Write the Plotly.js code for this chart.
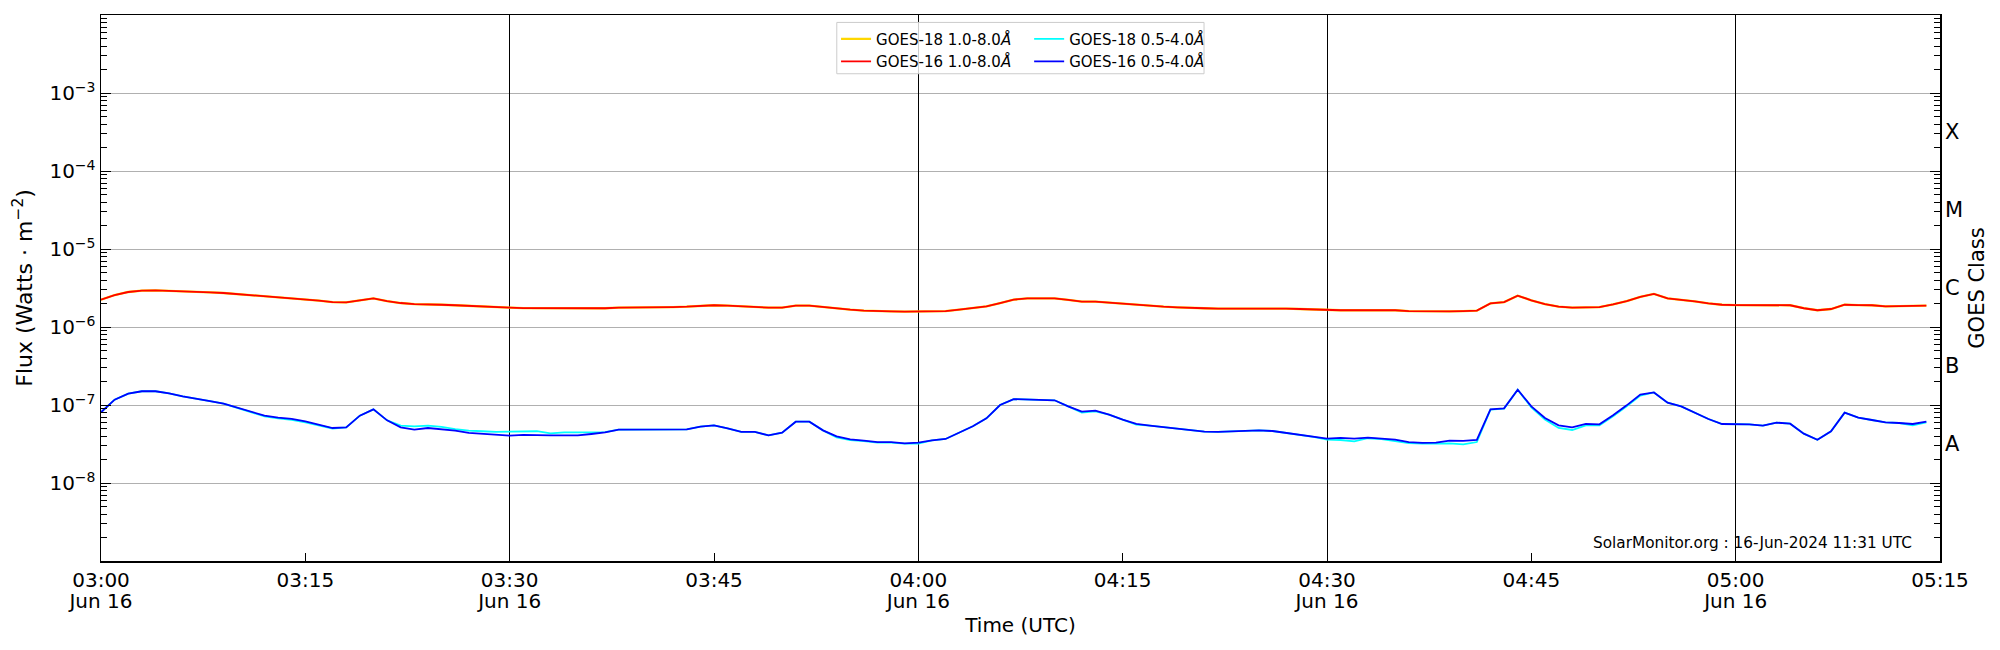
<!DOCTYPE html>
<html>
<head>
<meta charset="utf-8">
<script src="https://cdn.plot.ly/plotly-3.0.1.min.js"></script>
<style>
html, body { margin: 0; padding: 0; background: #fff; }
#chart { width: 2000px; height: 650px; }
</style>
</head>
<body>
<div id="chart"></div>
<script>
"use strict";

// one-minute samples, 03:00 to 05:14 UTC
const startUTC = Date.UTC(2024, 5, 16, 3, 0, 0);
const cadenceMin = 1;

// 1.0-8.0 A channel, in units of 1e-6 W/m2
const longUnit = 1e-6;
const goes18Long = [
  2.24, 2.57, 2.81, 2.92, 2.95, 2.92, 2.87, 2.81, 2.78, 2.73,
  2.65, 2.55, 2.45, 2.38, 2.33, 2.26, 2.18, 2.09, 2.07, 2.20,
  2.33, 2.15, 2.03, 1.97, 1.97, 1.93, 1.90, 1.86, 1.82, 1.79,
  1.77, 1.75, 1.75, 1.74, 1.72, 1.72, 1.72, 1.74, 1.77, 1.77,
  1.77, 1.79, 1.80, 1.82, 1.86, 1.90, 1.88, 1.84, 1.82, 1.77,
  1.77, 1.88, 1.88, 1.80, 1.72, 1.67, 1.62, 1.59, 1.59, 1.57,
  1.57, 1.59, 1.60, 1.67, 1.74, 1.84, 2.03, 2.24, 2.33, 2.33,
  2.33, 2.22, 2.11, 2.11, 2.05, 1.97, 1.90, 1.86, 1.82, 1.79,
  1.75, 1.74, 1.72, 1.72, 1.74, 1.75, 1.74, 1.72, 1.70, 1.67,
  1.65, 1.64, 1.64, 1.65, 1.65, 1.64, 1.60, 1.59, 1.57, 1.59,
  1.60, 1.62, 2.01, 2.09, 2.52, 2.20, 1.97, 1.82, 1.77, 1.80,
  1.80, 1.95, 2.15, 2.43, 2.65, 2.33, 2.24, 2.13, 2.01, 1.93,
  1.91, 1.90, 1.88, 1.90, 1.90, 1.74, 1.64, 1.70, 1.93, 1.91,
  1.90, 1.84, 1.84, 1.84, 1.88
];
const goes16Long = [
  2.24, 2.57, 2.81, 2.92, 2.95, 2.92, 2.87, 2.81, 2.78, 2.73,
  2.65, 2.55, 2.45, 2.38, 2.33, 2.26, 2.18, 2.09, 2.07, 2.20,
  2.33, 2.15, 2.03, 1.97, 1.97, 1.93, 1.90, 1.86, 1.82, 1.79,
  1.77, 1.75, 1.75, 1.74, 1.72, 1.72, 1.72, 1.74, 1.77, 1.77,
  1.77, 1.79, 1.80, 1.82, 1.86, 1.90, 1.88, 1.84, 1.82, 1.77,
  1.77, 1.88, 1.88, 1.80, 1.72, 1.67, 1.62, 1.59, 1.59, 1.57,
  1.57, 1.59, 1.60, 1.67, 1.74, 1.84, 2.03, 2.24, 2.33, 2.33,
  2.33, 2.22, 2.11, 2.11, 2.05, 1.97, 1.90, 1.86, 1.82, 1.79,
  1.75, 1.74, 1.72, 1.72, 1.74, 1.75, 1.74, 1.72, 1.70, 1.67,
  1.65, 1.64, 1.64, 1.65, 1.65, 1.64, 1.60, 1.59, 1.57, 1.59,
  1.60, 1.62, 2.01, 2.09, 2.52, 2.20, 1.97, 1.82, 1.77, 1.80,
  1.80, 1.95, 2.15, 2.43, 2.65, 2.33, 2.24, 2.13, 2.01, 1.93,
  1.91, 1.90, 1.88, 1.90, 1.90, 1.74, 1.64, 1.70, 1.93, 1.91,
  1.90, 1.84, 1.84, 1.84, 1.88
];

// 0.5-4.0 A channel, in units of 1e-8 W/m2
const shortUnit = 1e-8;
const goes18Short = [
  8.05, 11.7, 14.0, 15.0, 15.0, 14.1, 12.9, 11.9, 11.2, 10.4,
  9.24, 8.21, 7.15, 6.75, 6.45, 6.00, 5.50, 5.00, 5.15, 7.30,
  8.80, 6.36, 5.43, 5.33, 5.43, 5.25, 4.92, 4.69, 4.61, 4.51,
  4.55, 4.61, 4.61, 4.33, 4.47, 4.47, 4.47, 4.50, 4.83, 4.83,
  4.78, 4.78, 4.78, 4.88, 5.28, 5.49, 5.02, 4.51, 4.51, 4.08,
  4.42, 6.11, 6.11, 4.73, 3.85, 3.55, 3.45, 3.30, 3.30, 3.20,
  3.20, 3.52, 3.67, 4.46, 5.33, 6.75, 10.0, 11.9, 11.8, 11.7,
  11.5, 9.61, 8.00, 8.30, 7.52, 6.49, 5.60, 5.43, 5.17, 4.92,
  4.69, 4.55, 4.51, 4.55, 4.64, 4.73, 4.64, 4.38, 4.21, 3.89,
  3.60, 3.56, 3.42, 3.75, 3.65, 3.42, 3.25, 3.19, 3.19, 3.22,
  3.13, 3.35, 8.70, 9.00, 15.7, 9.33, 6.49, 5.07, 4.78, 5.49,
  5.50, 7.15, 9.60, 13.2, 14.5, 10.7, 9.61, 8.05, 6.62, 5.71,
  5.71, 5.65, 5.43, 5.94, 5.76, 4.29, 3.59, 4.60, 7.98, 6.88,
  6.42, 6.00, 5.88, 5.50, 6.00
];
const goes16Short = [
  8.05, 11.7, 14.0, 15.0, 15.0, 14.1, 12.9, 11.9, 11.2, 10.4,
  9.24, 8.21, 7.30, 6.88, 6.62, 6.18, 5.60, 5.07, 5.17, 7.30,
  8.80, 6.36, 5.17, 4.83, 5.07, 4.88, 4.69, 4.38, 4.25, 4.17,
  4.04, 4.13, 4.08, 4.08, 4.08, 4.08, 4.25, 4.46, 4.83, 4.83,
  4.78, 4.78, 4.78, 4.88, 5.28, 5.49, 5.02, 4.51, 4.51, 4.08,
  4.42, 6.11, 6.11, 4.73, 3.97, 3.63, 3.49, 3.35, 3.35, 3.23,
  3.29, 3.52, 3.67, 4.46, 5.33, 6.75, 10.0, 11.9, 11.8, 11.7,
  11.5, 9.61, 8.21, 8.46, 7.52, 6.49, 5.71, 5.43, 5.17, 4.92,
  4.69, 4.55, 4.51, 4.55, 4.64, 4.73, 4.64, 4.38, 4.21, 3.89,
  3.70, 3.78, 3.70, 3.81, 3.70, 3.59, 3.35, 3.26, 3.29, 3.49,
  3.46, 3.56, 8.80, 9.06, 15.7, 9.61, 6.81, 5.49, 5.17, 5.71,
  5.65, 7.37, 9.90, 13.6, 14.5, 10.7, 9.61, 8.05, 6.62, 5.71,
  5.71, 5.65, 5.43, 5.94, 5.76, 4.29, 3.59, 4.60, 7.98, 6.88,
  6.42, 6.00, 5.88, 5.71, 6.11
];

const seriesNames = [
  'GOES-18 1.0-8.0<i>Å</i>',
  'GOES-16 1.0-8.0<i>Å</i>',
  'GOES-18 0.5-4.0<i>Å</i>',
  'GOES-16 0.5-4.0<i>Å</i>'
];
const seriesColors = ['#ffd700', '#ff0000', '#00ffff', '#0000ff'];
const seriesWidths = [2.3, 1.8, 1.8, 1.8];

const timeRange = ['2024-06-16 03:00', '2024-06-16 05:15'];
// quarter-hour time labels (first line)
const tickTimes = [
  '2024-06-16 03:00', '2024-06-16 03:15', '2024-06-16 03:30', '2024-06-16 03:45',
  '2024-06-16 04:00', '2024-06-16 04:15', '2024-06-16 04:30', '2024-06-16 04:45',
  '2024-06-16 05:00', '2024-06-16 05:15'
];
const tickLabels = ['03:00', '03:15', '03:30', '03:45', '04:00',
                    '04:15', '04:30', '04:45', '05:00', '05:15'];
// half-hour marks: black vertical lines plus the date line
const halfHourTimes = [
  '2024-06-16 03:00', '2024-06-16 03:30', '2024-06-16 04:00',
  '2024-06-16 04:30', '2024-06-16 05:00'
];
const dateLabels = ['Jun 16', 'Jun 16', 'Jun 16', 'Jun 16', 'Jun 16'];
const decadeVals = [1e-8, 1e-7, 1e-6, 1e-5, 1e-4, 1e-3];
const decadeLabels = ['10<sup>−8</sup>', '10<sup>−7</sup>', '10<sup>−6</sup>',
                      '10<sup>−5</sup>', '10<sup>−4</sup>', '10<sup>−3</sup>'];
const classVals = [10 ** -7.5, 10 ** -6.5, 10 ** -5.5, 10 ** -4.5, 10 ** -3.5];
const classLabels = ['A', 'B', 'C', 'M', 'X'];

function stamp(i) {
  let d = new Date(startUTC + i * cadenceMin * 60000);
  return d.toISOString().slice(0, 19).replace('T', ' ');
}
const times = goes16Long.map((v, i) => stamp(i));

function scaled(arr, unit) {
  return arr.map(v => v * unit);
}

function makeTrace(vals, k, legendId) {
  return {
    x: times, y: vals, type: 'scatter', mode: 'lines',
    name: seriesNames[k], legend: legendId,
    line: { color: seriesColors[k], width: seriesWidths[k] },
    hoverinfo: 'skip'
  };
}

// drawing order keeps red over gold and blue over cyan
const data = [
  makeTrace(scaled(goes18Long, longUnit), 0, 'legend'),
  makeTrace(scaled(goes16Long, longUnit), 1, 'legend'),
  makeTrace(scaled(goes18Short, shortUnit), 2, 'legend2'),
  makeTrace(scaled(goes16Short, shortUnit), 3, 'legend2'),
  // empty trace so the half-hour axis and the class axis get drawn
  { x: [], y: [], xaxis: 'x2', yaxis: 'y2', type: 'scatter', mode: 'lines',
    showlegend: false, hoverinfo: 'skip' }
];

const layout = {
  width: 2000, height: 650,
  margin: { l: 101, r: 60, t: 15, b: 89 },
  paper_bgcolor: '#fff', plot_bgcolor: '#fff',
  font: { family: 'DejaVu Sans, sans-serif', size: 20, color: '#000' },
  showlegend: true,
  xaxis: {
    type: 'date', range: timeRange,
    tickmode: 'array', tickvals: tickTimes, ticktext: tickLabels,
    ticks: 'inside', ticklen: 8, tickcolor: '#000', tickwidth: 1,
    showgrid: false, zeroline: false,
    showline: true, linecolor: '#000', linewidth: 1.5, mirror: true,
    tickfont: { size: 20 },
    title: { text: 'Time (UTC)', font: { size: 20 }, standoff: 27 }
  },
  xaxis2: {
    type: 'date', range: timeRange, overlaying: 'x', anchor: 'y2', side: 'bottom',
    tickmode: 'array', tickvals: halfHourTimes, ticktext: dateLabels,
    showgrid: true, gridcolor: '#000', gridwidth: 1,
    showticklabels: true, ticklabelstandoff: 26, tickfont: { size: 20 },
    ticks: '', showline: false, zeroline: false
  },
  yaxis: {
    type: 'log', range: [-9, -2],
    tickmode: 'array', tickvals: decadeVals, ticktext: decadeLabels,
    ticks: 'inside', ticklen: 10, tickcolor: '#000', tickwidth: 1,
    minor: { tickmode: 'linear', dtick: 'D1', ticks: 'inside', ticklen: 6,
             tickcolor: '#000', showgrid: false },
    showgrid: true, gridcolor: '#b0b0b0', gridwidth: 1, zeroline: false,
    showline: true, linecolor: '#000', linewidth: 1.5, mirror: 'allticks',
    tickfont: { size: 20 },
    title: { text: 'Flux (Watts · m<sup>−2</sup>)', font: { size: 22 }, standoff: 10 }
  },
  yaxis2: {
    type: 'log', range: [-9, -2], overlaying: 'y', side: 'right', anchor: 'x',
    tickmode: 'array', tickvals: classVals, ticktext: classLabels,
    ticks: '', showgrid: false, showline: false, zeroline: false,
    ticklabelstandoff: 4, tickfont: { size: 21 },
    title: { text: 'GOES Class', font: { size: 21 }, standoff: 7 }
  },
  legend: {
    x: 0.3997, xanchor: 'left', y: 0.986, yanchor: 'top',
    bgcolor: 'rgba(0,0,0,0)', borderwidth: 0, tracegroupgap: 0,
    font: { size: 15 }
  },
  legend2: {
    x: 0.5047, xanchor: 'left', y: 0.986, yanchor: 'top',
    bgcolor: 'rgba(0,0,0,0)', borderwidth: 0, tracegroupgap: 0,
    font: { size: 15 }
  },
  shapes: [{
    type: 'rect', xref: 'paper', yref: 'paper',
    x0: 0.4001, x1: 0.5998, y0: 0.8924, y1: 0.9864,
    line: { color: '#cccccc', width: 1 },
    fillcolor: 'rgba(255,255,255,0.8)', layer: 'above'
  }],
  annotations: [{
    text: 'SolarMonitor.org : 16-Jun-2024 11:31 UTC',
    xref: 'paper', yref: 'paper', x: 0.9859, y: 0.033,
    xanchor: 'right', yanchor: 'middle', showarrow: false,
    font: { size: 15.3 }
  }]
};

Plotly.newPlot('chart', data, layout, { displayModeBar: false, staticPlot: true });
</script>
</body>
</html>
